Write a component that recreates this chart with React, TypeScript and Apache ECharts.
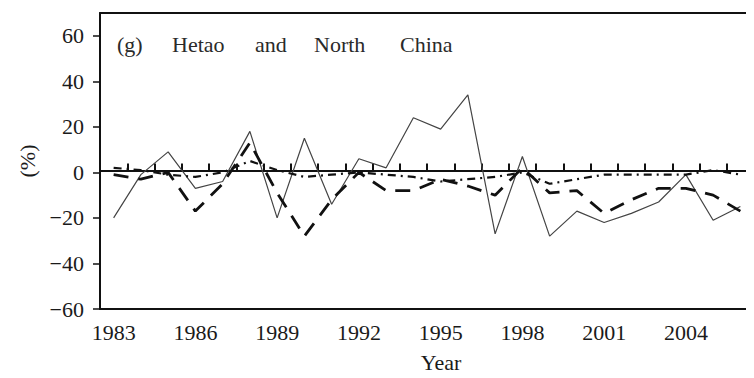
import React, { useEffect, useRef } from "react";
import * as echarts from "echarts";

const years = [
  "1983","1984","1985","1986","1987","1988","1989","1990","1991","1992","1993","1994",
  "1995","1996","1997","1998","1999","2000","2001","2002","2003","2004","2005","2006",
];
const solidSeries = [-20, -1, 9, -7, -4, 18, -20, 15, -14, 6, 2, 24, 19, 34, -27, 7, -28, -17, -22, -18, -13, -1, -21, -15];
const dashedSeries = [-1, -3, 0, -17, -5, 13, -9, -28, -12, 0, -8, -8, -3, -6, -10, 2, -9, -8, -18, -12, -7, -7, -10, -17];
const dashDotSeries = [2, 1, -1, -2, 0, 5, 1, -2, -1, 0, -1, -2, -4, -3, -2, 0, -5, -3, -1, -1, -1, -1, 1, -1];
const yTicks = [-60, -40, -20, 0, 20, 40, 60];
const titleWords = ["(g)", "Hetao", "and", "North", "China"];

const FONT = "Liberation Serif, DejaVu Serif, serif";

const GRID_TOP = 13;
const GRID_BOTTOM = 65;
const Y_MIN = -60;
const Y_MAX = 70;

export default function App() {
  const ref = useRef<HTMLDivElement>(null);
  useEffect(() => {
    if (!ref.current) return;
    const chart = echarts.init(ref.current, undefined, { renderer: "svg" });
    const titleX = [117, 172, 255, 314, 400];
    const plotH = 378 - GRID_TOP - GRID_BOTTOM;
    const zeroOffset = -(plotH * (0 - Y_MIN)) / (Y_MAX - Y_MIN);
    chart.setOption({
      animation: false,
      backgroundColor: "#ffffff",
      grid: { left: 100, right: 0, top: GRID_TOP, bottom: GRID_BOTTOM },
      xAxis: [
        {
          type: "category",
          data: years,
          position: "bottom",
          axisLine: { show: true, onZero: false, lineStyle: { color: "#111", width: 2 } },
          axisTick: { show: false },
          axisLabel: { interval: 2, margin: 12, fontFamily: FONT, fontSize: 22, color: "#1a1a1a" },
          splitLine: { show: false },
          name: "Year",
          nameLocation: "middle",
          nameGap: 42,
          nameTextStyle: { fontFamily: FONT, fontSize: 22, color: "#1a1a1a", padding: [0, 0, 0, 28] },
        },
        {
          type: "category",
          data: years,
          position: "bottom",
          offset: zeroOffset,
          axisLine: { show: true, onZero: false, lineStyle: { color: "#111", width: 2 } },
          axisTick: { show: true, inside: true, interval: 0, length: 7, lineStyle: { color: "#111", width: 2 } },
          axisLabel: { show: false },
          splitLine: { show: false },
        },
        {
          type: "category",
          data: years,
          position: "top",
          axisLine: { show: true, onZero: false, lineStyle: { color: "#111", width: 2 } },
          axisTick: { show: false },
          axisLabel: { show: false },
          splitLine: { show: false },
        },
      ],
      yAxis: {
        type: "value",
        min: Y_MIN,
        max: Y_MAX,
        interval: 20,
        axisLine: { show: true, onZero: false, lineStyle: { color: "#111", width: 2 } },
        axisTick: { show: true, length: 7, customValues: yTicks, lineStyle: { color: "#111", width: 1.5 } },
        axisLabel: {
          customValues: yTicks,
          margin: 16,
          fontFamily: FONT,
          fontSize: 22,
          color: "#1a1a1a",
          formatter: (v: number) => (v === 70 ? "" : String(v).replace("-", "\u2212")),
        },
        splitLine: { show: false },
        name: "(%)",
        nameLocation: "middle",
        nameRotate: 90,
        nameGap: 62,
        nameTextStyle: { fontFamily: FONT, fontSize: 22, color: "#1a1a1a" },
      },
      graphic: titleWords.map((w, i) => ({
        type: "text",
        x: titleX[i],
        y: 44,
        style: { text: w, font: `22px ${FONT}`, fill: "#2a2a2a", verticalAlign: "middle", align: "left" },
      })),
      series: [
        {
          type: "line",
          data: solidSeries,
          symbol: "none",
          lineStyle: { color: "#444", width: 1.2, type: "solid" },
        },
        {
          type: "line",
          data: dashedSeries,
          symbol: "none",
          lineStyle: { color: "#111", width: 2.8, type: [15, 10] },
        },
        {
          type: "line",
          data: dashDotSeries,
          symbol: "none",
          lineStyle: { color: "#111", width: 2.2, type: [8, 5, 2, 5] },
        },
      ],
    });
    return () => chart.dispose();
  }, []);
  return <div ref={ref} style={{ width: 754, height: 378, margin: -8 }} />;
}
